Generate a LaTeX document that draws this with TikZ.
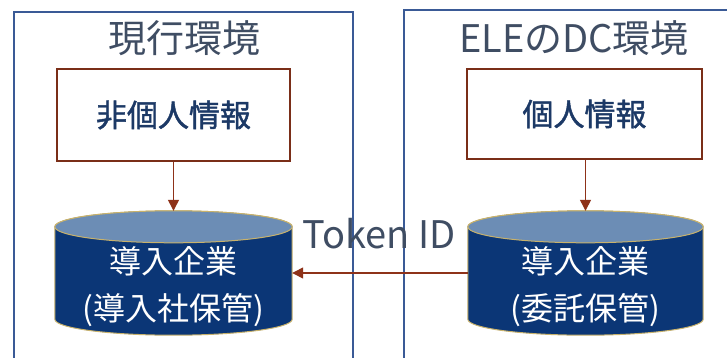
\documentclass[tikz,border=0pt]{standalone}
\usepackage{fontspec}
\setmainfont{Noto Sans CJK JP}
\newfontfamily\jpbold{Noto Sans CJK JP}[FakeBold=1.5]
\usetikzlibrary{arrows.meta,calc}
\definecolor{framec}{HTML}{3A5A96}
\definecolor{titlec}{HTML}{3F4D63}
\definecolor{boxc}{HTML}{7A2E18}
\definecolor{boxtext}{HTML}{1C3966}
\definecolor{arrowc}{HTML}{8E3219}
\definecolor{dbbody}{HTML}{0B3676}
\definecolor{dbtop}{HTML}{6C8DB5}
\definecolor{dbedge}{HTML}{C8B26C}
\tikzset{
  envframe/.style={draw=framec, line width=1.2pt},
  envtitle/.style={text=titlec, font=\fontsize{38}{44}\selectfont},
  infobox/.style={draw=boxc, line width=2.6pt, fill=white, text=boxtext,
    font=\jpbold\fontsize{31}{36}\selectfont},
  dbslot/.style={inner sep=0pt},
  dblabel/.style={text=white, align=center, font=\fontsize{32}{47}\selectfont},
  flow/.style={draw=arrowc, line width=1.3pt, -{Triangle[length=11pt,width=11pt]}},
  tokenlabel/.style={text=titlec, font=\fontsize{38}{43}\selectfont}
}
% cylinder drawn inside the bounding rectangle of a named node
\newcommand{\dbcylinder}[1]{%
  \path[fill=dbbody, draw=dbedge, line width=1pt]
    let \p1=(#1.north west), \p2=(#1.south east),
        \n1={(\x2-\x1)/2}, \n2={16pt} in
      (\x1,\y1-\n2) -- (\x1,\y2+\n2)
      arc[start angle=180, end angle=360, x radius=\n1, y radius=\n2]
      -- (\x2,\y1-\n2)
      arc[start angle=0, end angle=180, x radius=\n1, y radius=\n2] -- cycle;
  \path[fill=dbtop, draw=dbedge, line width=1pt]
    let \p1=(#1.north west), \p2=(#1.south east),
        \n1={(\x2-\x1)/2}, \n2={16pt} in
      (\x1+\n1,\y1-\n2) ellipse[x radius=\n1, y radius=\n2];}
\begin{document}
\begin{tikzpicture}[x=1pt,y=1pt]
\useasboundingbox[fill=white] (0,0) rectangle (727,357);
% environment frames
\draw[envframe] (14,-5) -- (14,345) -- (353,345) -- (353,-5);
\draw[envframe] (404,-5) -- (404,347) -- (735,347);
\node[envtitle] (tL) at (184,319) {現行環境};
\node[envtitle] (tR) at (574,319) {ELEのDC環境};
% information boxes
\node[infobox, minimum width=233pt, minimum height=92pt] (bL) at (173.5,242) {非個人情報};
\node[infobox, minimum width=235pt, minimum height=90pt] (bR) at (584.5,243) {個人情報};
% databases
\node[dbslot, minimum width=237pt, minimum height=124pt] (dL) at (173.5,84) {};
\node[dbslot, minimum width=235pt, minimum height=124pt] (dR) at (585.5,84) {};
\dbcylinder{dL}
\dbcylinder{dR}
\node[dblabel] (lL) at (173.5,70) {導入企業\\(導入社保管)};
\node[dblabel] (lR) at (585.5,70) {導入企業\\(委託保管)};
% connectors
\draw[flow] (bL.south) -- (dL.north);
\draw[flow] (bR.south -| dR.north) -- (dR.north);
\draw[flow] (dR.west) -- (dL.east);
\node[tokenlabel] (tok) at (379,123) {Token ID};
\end{tikzpicture}
\end{document}
